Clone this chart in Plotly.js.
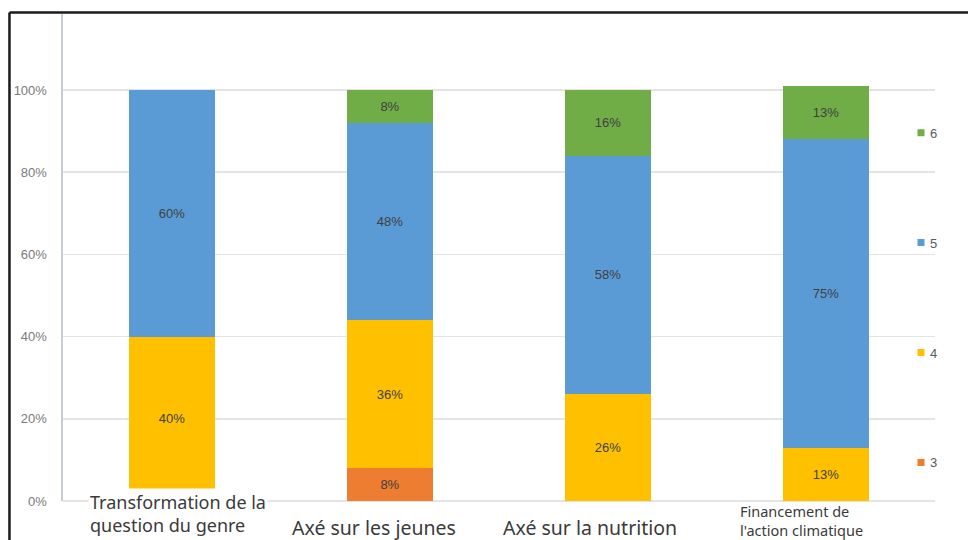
<!DOCTYPE html>
<html>
<head>
<meta charset="utf-8">
<script src="https://cdn.plot.ly/plotly-3.0.1.min.js"></script>
<style>
  html, body { margin: 0; padding: 0; background: #ffffff; }
  #chart { width: 968px; height: 540px; }
</style>
</head>
<body>
<div id="chart"></div>
<script>
// Categories (x axis) and their displayed labels
const categories = [
  'Transformation de la question du genre',
  'Axé sur les jeunes',
  'Axé sur la nutrition',
  "Financement de l'action climatique"
];
const categoryLabels = [
  'Transformation de la<br>question du genre',
  'Axé sur les jeunes',
  'Axé sur la nutrition',
  "Financement de<br>l'action climatique"
];

// Share of each score per category (stacked to 100%)
const score3 = [null, 0.08, null, null];
const score4 = [0.40, 0.36, 0.26, 0.13];
const score5 = [0.60, 0.48, 0.58, 0.75];
const score6 = [null, 0.08, 0.16, 0.13];

const seriesNames = ['3', '4', '5', '6'];
const yTickVals = [0, 0.2, 0.4, 0.6, 0.8, 1.0];
const yTickText = ['0%', '20%', '40%', '60%', '80%', '100%'];

const colors = ['#ED7D31', '#FFC000', '#5B9BD5', '#70AD47'];
const allSeries = [score3, score4, score5, score6];

const traces = allSeries.map((vals, i) => ({
  type: 'bar',
  name: seriesNames[i],
  x: categories,
  y: vals,
  marker: { color: colors[i], line: { width: 0 } },
  texttemplate: '%{y:.0%}',
  textposition: 'inside',
  insidetextanchor: 'middle',
  constraintext: 'none',
  textangle: 0,
  textfont: { family: 'Liberation Sans Narrow, Liberation Sans, sans-serif', size: 13, color: '#404040' },
  legendgroup: 'g' + seriesNames[i],
  legendrank: allSeries.length - i,   // highest score listed first
  hoverinfo: 'skip'
}));

// Category label placement under the bars
const labelFont = 'Noto Sans, Open Sans, sans-serif';
const labelStyle = [
  { size: 18, xshift: 6, y: 0.027, yanchor: 'top', xanchor: 'center', align: 'left' },
  { size: 19.5, xshift: -16, y: -0.0554, yanchor: 'middle', xanchor: 'center', align: 'center' },
  { size: 19.5, xshift: -18, y: -0.0554, yanchor: 'middle', xanchor: 'center', align: 'center' },
  { size: 14.5, xshift: -88, y: 0.004, yanchor: 'top', xanchor: 'left', align: 'left' }
];

const annotations = categoryLabels.map((t, i) => ({
  text: t,
  xref: 'x', yref: 'paper',
  x: categories[i],
  y: labelStyle[i].y,
  xshift: labelStyle[i].xshift,
  xanchor: labelStyle[i].xanchor,
  yanchor: labelStyle[i].yanchor,
  align: labelStyle[i].align,
  showarrow: false,
  bgcolor: i === 0 ? '#ffffff' : 'rgba(0,0,0,0)',
  borderpad: 1,
  font: { family: labelFont, size: labelStyle[i].size, color: '#3a3a3a' }
}));

const frameColor = '#1a1a1a';
const shapes = [
  { type: 'line', xref: 'paper', yref: 'paper', x0: -0.0614, x1: 1.06, y0: 1.003, y1: 1.003,
    line: { color: frameColor, width: 2.5 }, layer: 'above' },
  { type: 'line', xref: 'paper', yref: 'paper', x0: -0.0614, x1: -0.0614, y0: 1.003, y1: -0.2,
    line: { color: frameColor, width: 2.5 }, layer: 'above' }
];

const layout = {
  width: 968,
  height: 540,
  margin: { l: 63, r: 33, t: 14, b: 39, pad: 0 },
  paper_bgcolor: '#ffffff',
  plot_bgcolor: '#ffffff',
  barmode: 'stack',
  bargap: 0.61,
  showlegend: true,
  legend: {
    x: 0.961, xanchor: 'left',
    y: 0.787, yanchor: 'top',
    traceorder: 'grouped',
    tracegroupgap: 90,
    font: { family: 'Liberation Sans Narrow, Liberation Sans, sans-serif', size: 13, color: '#595959' },
    bgcolor: 'rgba(0,0,0,0)'
  },
  xaxis: {
    type: 'category',
    showticklabels: false,
    showgrid: false,
    zeroline: false,
    showline: false,
    ticks: '',
    fixedrange: true
  },
  yaxis: {
    range: [0, 1.185],
    tickvals: yTickVals,
    ticktext: yTickText,
    showgrid: true,
    gridcolor: '#e4e4e4',
    gridwidth: 1.5,
    zeroline: true,
    zerolinecolor: '#e4e4e4',
    zerolinewidth: 1.5,
    showline: true,
    linecolor: '#c8ccd8',
    linewidth: 2.5,
    ticks: '',
    ticklabelstandoff: 11,
    tickfont: { family: 'Liberation Sans Narrow, Liberation Sans, sans-serif', size: 13, color: '#7a7a7a' },
    fixedrange: true
  },
  annotations: annotations,
  shapes: shapes
};

Plotly.newPlot('chart', traces, layout, { displayModeBar: false, staticPlot: true }).then(gd => {
  // Compact legend swatches: small squares sitting close to their labels
  gd.querySelectorAll('.legend .legendpoints path').forEach(p => {
    p.setAttribute('d', 'M3.5,3.5H-3.5V-3.5H3.5Z');
  });
  gd.querySelectorAll('.legend .legendtext').forEach(t => {
    t.setAttribute('x', '29');
  });
});
</script>
</body>
</html>
